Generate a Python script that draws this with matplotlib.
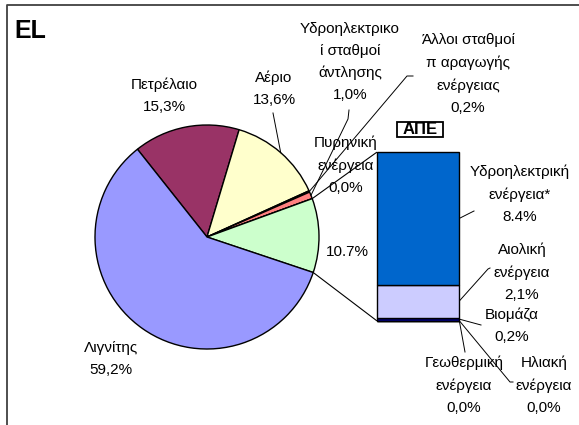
import numpy as np
import matplotlib
matplotlib.use('Agg')
import matplotlib.pyplot as plt
from matplotlib.patches import Rectangle, ConnectionPatch

plt.rcParams['font.family'] = ['Liberation Sans', 'DejaVu Sans']

# ---- data ----
pie_labels = ['Πετρέλαιο\n15,3%', 'Αέριο\n13,6%',
              'Άλλοι σταθμοί\nπ αραγωγής\nενέργειας\n0,2%',
              'Υδροηλεκτρικο\nί σταθμοί\nάντλησης\n1,0%',
              'Πυρηνική\nενέργεια\n0,0%', '10.7%', 'Λιγνίτης\n59,2%']
pie_values = [15.3, 13.6, 0.2, 1.0, 0.0, 10.7, 59.2]
pie_colors = ['#993366', '#FFFFCC', '#000000', '#FF8080', '#FFCC99', '#CCFFCC', '#9999FF']

bar_labels = ['Ηλιακή\nενέργεια\n0,0%', 'Γεωθερμική\nενέργεια\n0,0%', 'Βιομάζα\n0,2%',
              'Αιολική\nενέργεια\n2,1%', 'Υδροηλεκτρική\nενέργεια*\n8.4%']
bar_values = [0.0, 0.0, 0.2, 2.1, 8.4]
bar_colors = ['#FFFF99', '#FF9900', '#000080', '#CCCCFF', '#0066CC']

# ---- layout (pixels) ----
W, H = 579, 425
FS = 11
LS = 1.72
fig = plt.figure(figsize=(W / 100, H / 100), dpi=100)
ax = fig.add_axes([0, 0, 1, 1])

cx, cy, R = 207, 237, 112
wedges, _ = ax.pie(pie_values, colors=pie_colors, startangle=-128.4, counterclock=True,
                   center=(cx, cy), radius=R, frame=True,
                   wedgeprops=dict(edgecolor='black', linewidth=1))
ax.set_xlim(0, W)
ax.set_ylim(H, 0)
ax.set_aspect('equal')
ax.axis('off')

# border of chart area
ax.plot([7, 7, W], [H, 5, 5], color='#404040', lw=1.3, solid_capstyle='butt')
ax.text(14, 31, 'EL', fontsize=18, fontweight='bold', ha='left', va='center')

# bar of pie
bx0, bx1, by0, by1 = 376.7, 459.3, 152.3, 320.7
ax2 = fig.add_axes([bx0 / W, 1 - by1 / H, (bx1 - bx0) / W, (by1 - by0) / H])
bottoms = np.concatenate([[0], np.cumsum(bar_values)[:-1]])
bars = ax2.bar(0, bar_values, width=1, bottom=bottoms, color=bar_colors,
               edgecolor='black', linewidth=1, clip_on=False)
ax2.set_xlim(-0.5, 0.5)
ax2.set_ylim(0, sum(bar_values))
ax2.axis('off')
ax2.patch.set_visible(False)

# connectors from split wedge to bar
w = wedges[5]
for ang, yb in [(w.theta1, 1), (w.theta2, 0)]:
    p = (cx + R * np.cos(np.radians(ang)), cy + R * np.sin(np.radians(ang)))
    con = ConnectionPatch(xyA=p, coordsA=ax.transData, xyB=(0, yb), coordsB=ax2.transAxes,
                          color='black', lw=0.8)
    fig.add_artist(con)

# pie labels
pie_pos = [(164, 96), (274, 89), (468, 74), (350, 62), (346, 165), (347, 252), (111, 359)]
for lab, (x, y) in zip(pie_labels, pie_pos):
    ax.text(x, y, lab, ha='center', va='center', fontsize=FS, linespacing=LS, zorder=1)

pie_leaders = {1: [(273, 113)], 2: [(413, 76), (407, 76)], 3: [(349, 110), (348, 119)]}
for i, pts in pie_leaders.items():
    wd = wedges[i]
    a = np.radians((wd.theta1 + wd.theta2) / 2)
    end = (cx + R * np.cos(a), cy + R * np.sin(a))
    xs = [p[0] for p in pts] + [end[0]]
    ys = [p[1] for p in pts] + [end[1]]
    ax.plot(xs, ys, color='black', lw=0.7, zorder=5)

# bar labels
bar_pos = [(544, 385), (464, 385), (512, 326), (522, 272), (520, 194)]
for lab, (x, y) in zip(bar_labels, bar_pos):
    ax.text(x, y, lab, ha='center', va='center', fontsize=FS, linespacing=LS, zorder=1)

bar_leaders = {0: [(513, 382), (510, 382)], 1: [(465, 352)], 2: [(481, 325)],
               3: [(490, 268), (488, 269)], 4: [(474, 211), (472, 212)]}
to_main = ax.transData.inverted()
for i, pts in bar_leaders.items():
    ymid = bottoms[i] + bar_values[i] / 2
    end = to_main.transform(ax2.transData.transform((0.5, ymid)))
    xs = [p[0] for p in pts] + [end[0]]
    ys = [p[1] for p in pts] + [end[1]]
    ax.plot(xs, ys, color='black', lw=0.7, zorder=5)

# ΑΠΕ box
ax.add_patch(Rectangle((396.7, 121.7), 46.6, 15, facecolor='white', edgecolor='black', lw=1.3))
ax.text(420, 129.5, 'ΑΠΕ', fontsize=12, fontweight='bold', ha='center', va='center')

fig.savefig('out.png', dpi=100)
